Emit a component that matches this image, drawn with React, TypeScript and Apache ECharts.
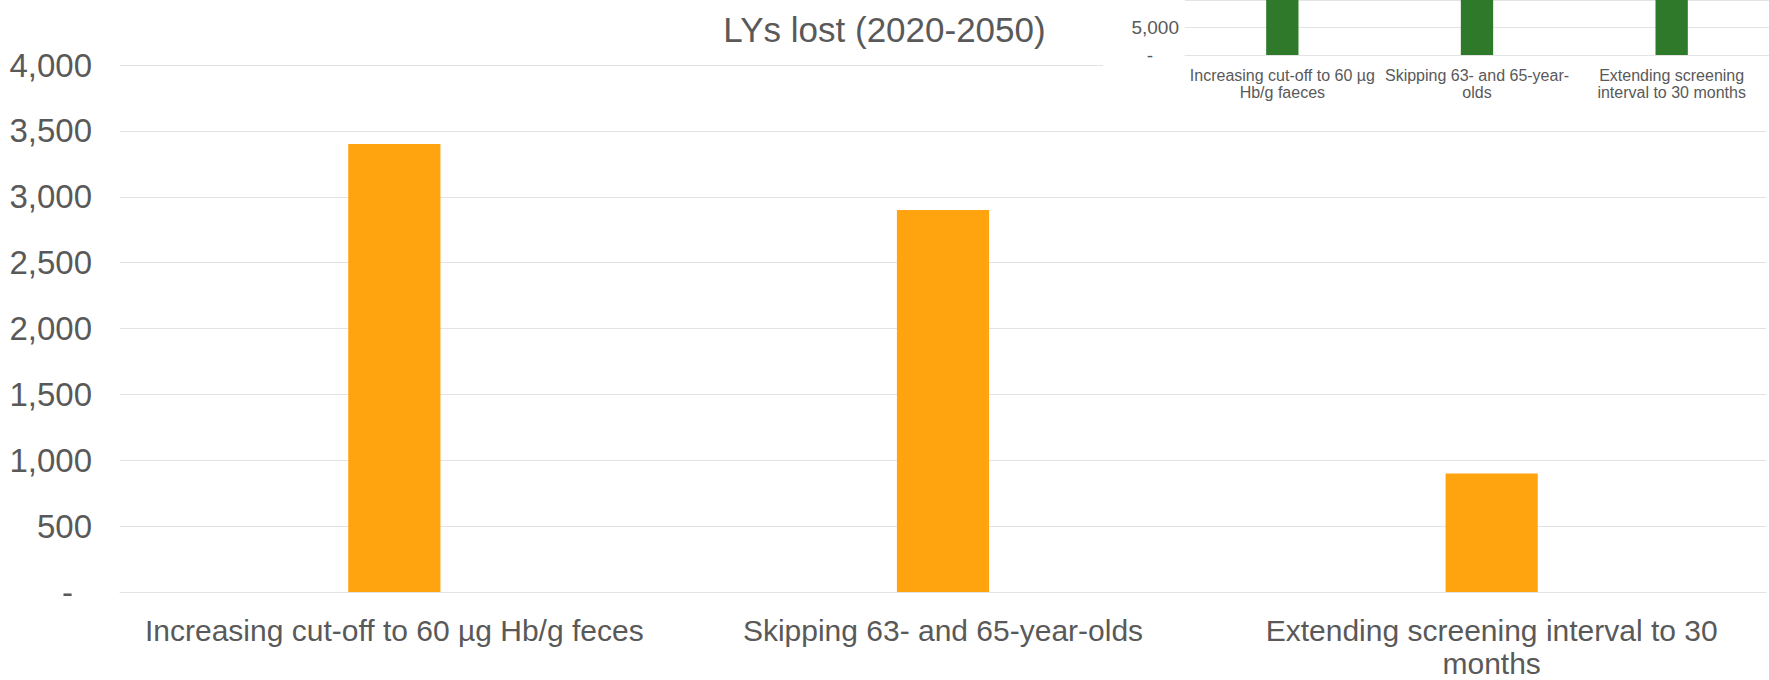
import React, { useEffect, useRef } from "react";
import * as echarts from "echarts";

const titleText = "LYs lost (2020-2050)";
const mainCategories = [
  "Increasing cut-off to 60 µg Hb/g feces",
  "Skipping 63- and 65-year-olds",
  "Extending screening interval to 30\nmonths",
];
const mainValues = [3400, 2900, 900];
const mainYMax = 4000;
const mainYInterval = 500;

const insetCategories = [
  "Increasing cut-off to 60 µg\nHb/g faeces",
  "Skipping 63- and 65-year-\nolds",
  "Extending screening\ninterval to 30 months",
];
// bars run past the top of the picture; values estimated
const insetValues = [24000, 21000, 12000];
const insetYMax = 10000;
const insetYInterval = 5000;

const TEXT = "#595959";
const GRID = "#E3E3E3";
const FONT = '"Liberation Sans", Arial, sans-serif';

const fmt = (v: number) =>
  v === 0 ? "{z|-}" : v.toLocaleString("en-US");

export default function App() {
  const ref = useRef<HTMLDivElement>(null);
  useEffect(() => {
    if (!ref.current) return;
    const chart = echarts.init(ref.current, undefined, { renderer: "svg" });
    chart.setOption({
      animation: false,
      backgroundColor: "#ffffff",
      title: {
        text: titleText,
        left: "center",
        top: 7,
        textStyle: { color: TEXT, fontSize: 35, fontWeight: "normal", fontFamily: FONT },
      },
      grid: [
        { left: 120, width: 1646, top: 65, height: 530, containLabel: false },
        { left: 1185, width: 615, top: -23, height: 78, containLabel: false },
      ],
      graphic: [
        {
          type: "rect",
          z: 5,
          shape: { x: 1103, y: 0, width: 700, height: 126 },
          style: { fill: "#ffffff" },
        },
      ],
      xAxis: [
        {
          type: "category",
          gridIndex: 0,
          data: mainCategories,
          axisTick: { show: false },
          axisLine: { lineStyle: { color: GRID, width: 1 } },
          axisLabel: {
            color: TEXT,
            fontSize: 30,
            fontFamily: FONT,
            margin: 22,
            lineHeight: 33,
            interval: 0,
          },
        },
        {
          type: "category",
          gridIndex: 1,
          z: 10,
          data: insetCategories,
          axisTick: { show: false },
          axisLine: { lineStyle: { color: GRID, width: 1 } },
          axisLabel: {
            color: TEXT,
            fontSize: 16,
            fontFamily: FONT,
            margin: 12,
            lineHeight: 17,
            interval: 0,
          },
        },
      ],
      yAxis: [
        {
          type: "value",
          gridIndex: 0,
          min: 0,
          max: mainYMax,
          interval: mainYInterval,
          axisLine: { show: false },
          axisTick: { show: false },
          splitLine: { lineStyle: { color: GRID, width: 1 } },
          axisLabel: {
            color: TEXT,
            fontSize: 33,
            fontFamily: FONT,
            margin: 28,
            formatter: fmt,
            rich: { z: { color: TEXT, fontSize: 33, fontFamily: FONT, padding: [0, 19, 0, 0] } },
          },
        },
        {
          type: "value",
          gridIndex: 1,
          z: 10,
          min: 0,
          max: insetYMax,
          interval: insetYInterval,
          axisLine: { show: false },
          axisTick: { show: false },
          splitLine: { lineStyle: { color: GRID, width: 1 } },
          axisLabel: {
            color: TEXT,
            fontSize: 19,
            fontFamily: FONT,
            margin: 6,
            showMaxLabel: false,
            formatter: fmt,
            rich: { z: { color: TEXT, fontSize: 19, fontFamily: FONT, padding: [0, 26, 0, 0] } },
          },
        },
      ],
      series: [
        {
          type: "bar",
          xAxisIndex: 0,
          yAxisIndex: 0,
          data: mainValues,
          barWidth: "16.8%",
          itemStyle: { color: "#FFA30F" },
          z: 2,
        },
        {
          type: "bar",
          xAxisIndex: 1,
          yAxisIndex: 1,
          data: insetValues,
          barWidth: "16.6%",
          clip: true,
          itemStyle: { color: "#2E7A2A" },
          z: 11,
        },
      ],
    });
    return () => chart.dispose();
  }, []);
  return (
    <div
      ref={ref}
      style={{ position: "absolute", left: 0, top: 0, width: 1769, height: 680 }}
    />
  );
}
